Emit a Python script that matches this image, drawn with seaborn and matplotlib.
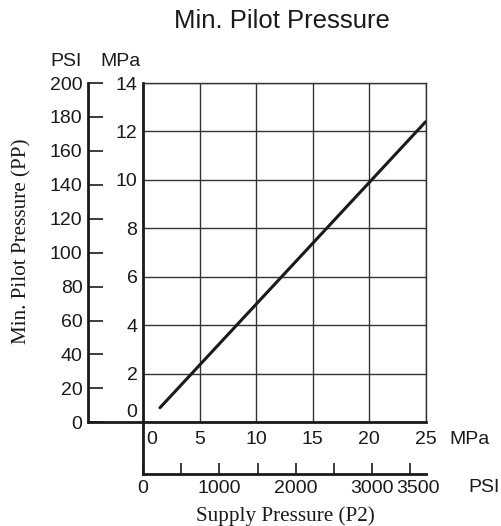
import matplotlib
matplotlib.use("Agg")
import matplotlib.pyplot as plt
import matplotlib.transforms as mtransforms
import seaborn as sns
import pandas as pd

# line (MPa on both axes)
supply_mpa = [1.5, 25.0]
pilot_mpa = [0.6, 12.4]

mpa_y_ticks = [0, 2, 4, 6, 8, 10, 12, 14]
mpa_y_minor = [1, 3, 5, 7, 9, 11, 13]
psi_y_ticks = [0, 20, 40, 60, 80, 100, 120, 140, 160, 180, 200]
mpa_x_ticks = [0, 5, 10, 15, 20, 25]
mpa_x_minor = [2.5, 7.5, 12.5, 17.5, 22.5]
psi_x_ticks = [0, 500, 1000, 1500, 2000, 2500, 3000, 3500]
psi_x_labels = ['0', '', '1000', '', '2000', '', '3000', '3500']

sns.set_style('white')
plt.rcParams['font.family'] = ['Liberation Sans', 'DejaVu Sans']
serif = ['Liberation Serif', 'DejaVu Serif']
fs = 14
ink = '#1a1a1a'

W, H = 502, 526
fig = plt.figure(figsize=(W / 100, H / 100), dpi=100)
x0, x1, y0, y1 = 143, 425.6, 422.3, 83
ax = fig.add_axes([x0 / W, 1 - y0 / H, (x1 - x0) / W, (y0 - y1) / H])

df = pd.DataFrame({'p2': supply_mpa, 'pp': pilot_mpa})
sns.lineplot(data=df, x='p2', y='pp', ax=ax, color=ink, lw=2.2)
ax.set_xlim(0, 25)
ax.set_ylim(0, 14)
ax.set_xlabel('')
ax.set_ylabel('')

ax.set_xticks(mpa_x_ticks)
ax.set_yticks(mpa_y_ticks)
ax.set_xticks(mpa_x_minor, minor=True)
ax.set_yticks(mpa_y_minor, minor=True)
ax.grid(True, which='major', color='#333333', lw=1)
ax.tick_params(which='major', length=0, labelsize=fs, colors=ink)
ax.tick_params(axis='x', which='major', pad=6)
ax.tick_params(axis='y', which='major', pad=4)
ax.tick_params(which='minor', direction='in', length=6, width=1, color='#333333')
for s in ['left', 'bottom']:
    ax.spines[s].set_linewidth(2)
    ax.spines[s].set_color(ink)
for s in ['top', 'right']:
    ax.spines[s].set_linewidth(1)
    ax.spines[s].set_color('#333333')

# secondary PSI scales
psi_left = -55 / (x1 - x0)
psi_bottom = -51.7 / (y0 - y1)
sy = ax.secondary_yaxis(psi_left, functions=(lambda m: m * 200 / 14, lambda p: p * 14 / 200))
sy.set_yticks(psi_y_ticks)
sy.tick_params(direction='in', length=11, width=1.2, labelsize=fs, pad=4, colors=ink)
sy.spines['left'].set_linewidth(2)
sy.spines['left'].set_color(ink)

sx = ax.secondary_xaxis(psi_bottom, functions=(lambda m: m * 148, lambda p: p / 148))
sx.set_xticks(psi_x_ticks, labels=psi_x_labels)
sx.tick_params(direction='in', length=8, width=1.2, labelsize=fs, pad=4, colors=ink)
sx.spines['bottom'].set_linewidth(2)
sx.spines['bottom'].set_color(ink)

# axis joins
ax.axhline(0, xmin=psi_left, xmax=0, color=ink, lw=2, clip_on=False)
ax.axvline(0, ymin=psi_bottom, ymax=0, color=ink, lw=2, clip_on=False)


def nudge(lbl, dx, dy):
    lbl.set_transform(lbl.get_transform() + mtransforms.ScaledTranslation(dx / 100, dy / 100, fig.dpi_scale_trans))


# crowded labels near the corner
nudge(ax.get_yticklabels()[0], 0, 12)
nudge(ax.get_xticklabels()[0], 9, 0)
nudge(sx.get_xticklabels()[-1], 8, 0)

fig.text(282 / W, 1 - 21 / H, 'Min. Pilot Pressure', ha='center', va='center', fontsize=18.5, color=ink)
fig.text(66 / W, 1 - 61 / H, 'PSI', ha='center', va='center', fontsize=fs, color=ink)
fig.text(121 / W, 1 - 61 / H, 'MPa', ha='center', va='center', fontsize=fs, color=ink)
fig.text(470 / W, 1 - 440 / H, 'MPa', ha='center', va='center', fontsize=fs, color=ink)
fig.text(484 / W, 1 - 488 / H, 'PSI', ha='center', va='center', fontsize=fs, color=ink)
fig.text(22 / W, 1 - 241 / H, 'Min. Pilot Pressure (PP)', rotation=90, ha='center', va='center',
         fontsize=15.2, family=serif, color=ink)
fig.text(285 / W, 1 - 516 / H, 'Supply Pressure (P2)', ha='center', va='center',
         fontsize=15.2, family=serif, color=ink)

fig.savefig('out.png', dpi=100)
